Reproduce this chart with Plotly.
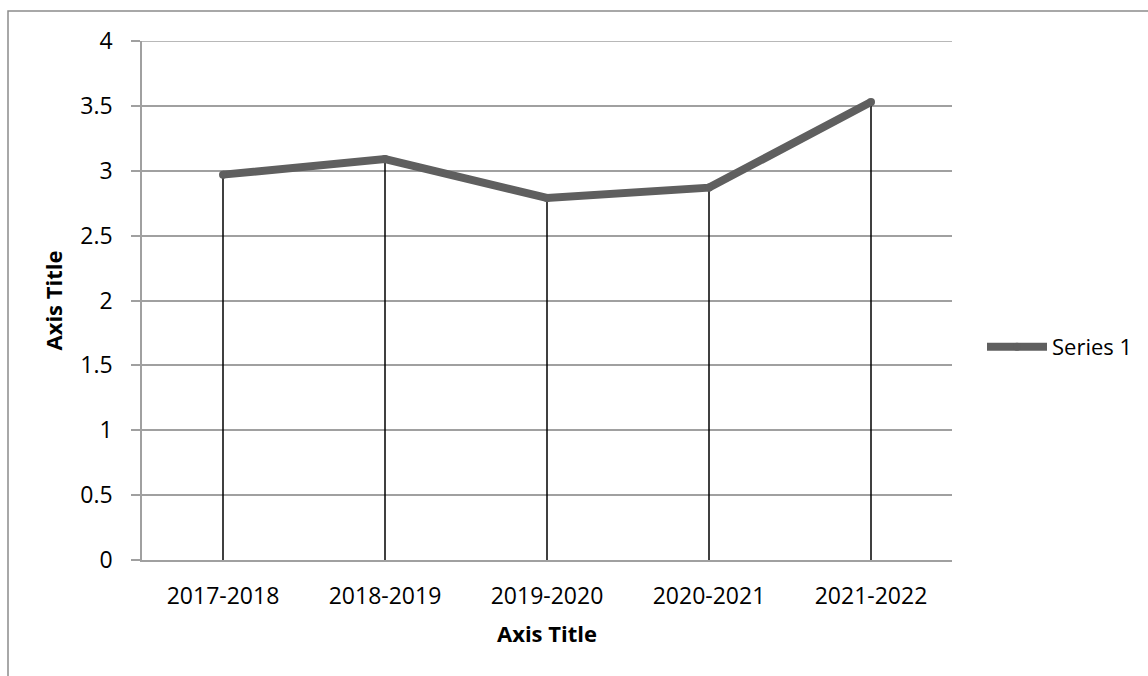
import plotly.graph_objects as go

categories = ["2017-2018", "2018-2019", "2019-2020", "2020-2021", "2021-2022"]
series_name = "Series 1"
values = [2.97, 3.09, 2.79, 2.87, 3.53]
y_ticks = [0, 0.5, 1, 1.5, 2, 2.5, 3, 3.5, 4]
y_tick_labels = ["0", "0.5", "1", "1.5", "2", "2.5", "3", "3.5", "4"]

FONT = "Open Sans"
GRID = "#a0a0a0"

# drop lines from each point down to the axis
drop_x, drop_y = [], []
for c, v in zip(categories, values):
    drop_x += [c, c, None]
    drop_y += [0, v, None]

fig = go.Figure()
fig.add_trace(go.Scatter(
    x=drop_x, y=drop_y, mode="lines",
    line=dict(color="black", width=1.5),
    showlegend=False, hoverinfo="skip",
))
fig.add_trace(go.Scatter(
    x=categories, y=values, name=series_name, mode="lines+markers",
    line=dict(color="#5f5f5f", width=8),
    marker=dict(color="#5f5f5f", size=8),
))

L, R, T, B = 142, 196, 41, 116
W, H = 1148, 676
pw = W - L - R
ph = H - T - B

fig.update_layout(
    width=W, height=H,
    margin=dict(l=L, r=R, t=T, b=B, autoexpand=False),
    paper_bgcolor="white", plot_bgcolor="white",
    font=dict(family=FONT, size=23, color="black"),
    showlegend=True,
    legend=dict(
        x=(982 - L) / pw, xanchor="left",
        y=(H - B - 347) / ph, yanchor="middle",
        itemwidth=60, bgcolor="rgba(0,0,0,0)",
        font=dict(family=FONT, size=22, color="black"),
        tracegroupgap=0,
    ),
    xaxis=dict(
        type="category", range=[-0.5, 4.5],
        showgrid=False, showline=True, linecolor=GRID, linewidth=1.5,
        ticks="", ticklabelstandoff=15,
        title=dict(text="<b>Axis Title</b>", standoff=16,
                   font=dict(family=FONT, size=22, color="black")),
        zeroline=False, fixedrange=True,
    ),
    yaxis=dict(
        range=[0, max(y_ticks)], tickvals=y_ticks, ticktext=y_tick_labels,
        showgrid=True, gridcolor=GRID, gridwidth=1.5,
        showline=True, linecolor=GRID, linewidth=1.5,
        ticks="outside", ticklen=9, tickcolor=GRID, tickwidth=1.5,
        ticklabelstandoff=14,
        title=dict(text="<b>Axis Title</b>", standoff=12,
                   font=dict(family=FONT, size=22, color="black")),
        zeroline=False, fixedrange=True,
    ),
    shapes=[
        dict(
            type="rect", xref="paper", yref="paper",
            x0=(8 - L) / pw, x1=(W + 20 - L) / pw,
            y0=(H - B - 11) / ph, y1=(H - B - H - 20) / ph,
            line=dict(color="#8c8c8c", width=1.5), fillcolor="rgba(0,0,0,0)",
            layer="below",
        ),
        # top gridline (plotly drops the gridline on the range edge)
        dict(
            type="line", xref="paper", yref="y",
            x0=0, x1=1, y0=max(y_ticks), y1=max(y_ticks),
            line=dict(color=GRID, width=1.5), layer="below",
        ),
    ],
)

fig.write_html("out.html")
